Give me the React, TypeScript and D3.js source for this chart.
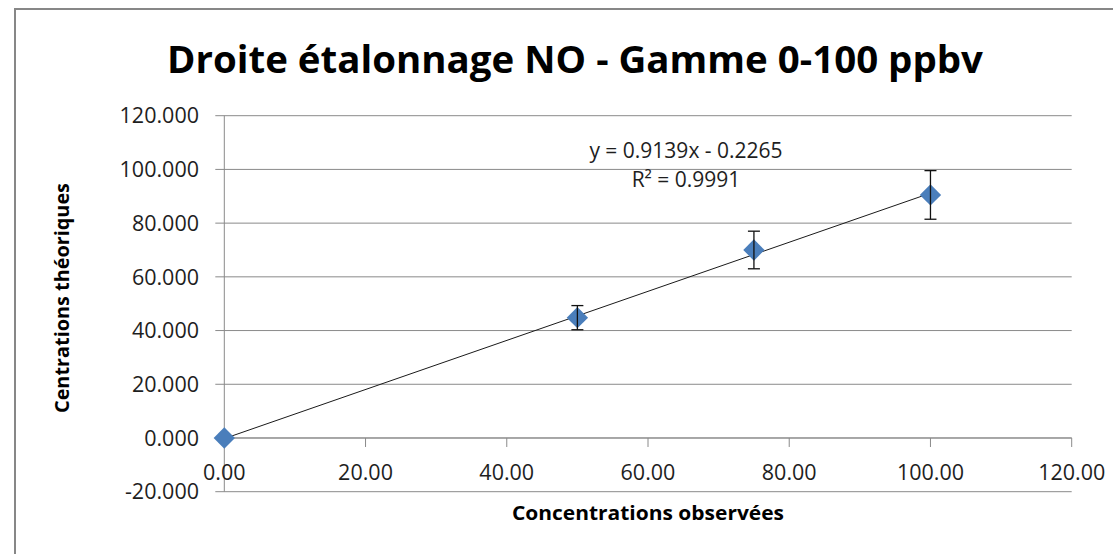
import React from "react";
import * as d3 from "d3";

const chartTitle = "Droite étalonnage NO - Gamme 0-100 ppbv";
const xAxisTitle = "Concentrations observées";
const yAxisTitle = "Centrations théoriques";

const xObserved = [0, 50, 75, 100];
const yTheoretical = [0, 44.8, 70.0, 90.5];
const yErrors = [0, 4.5, 7.0, 9.05];

const xTicks = [0, 20, 40, 60, 80, 100, 120];
const yTicks = [-20, 0, 20, 40, 60, 80, 100, 120];

const trendSlope = 0.9139;
const trendIntercept = -0.2265;
const trendRange = [0, 100];
const equationLines = ["y = 0.9139x - 0.2265", "R² = 0.9991"];

const W = 1113;
const H = 554;

export default function App() {
  const x = d3.scaleLinear().domain([0, 120]).range([224.3, 1071.7]);
  const y = d3.scaleLinear().domain([-20, 120]).range([491.7, 115.7]);
  const fy = (v: number) => d3.format(".3f")(v).replace("\u2212", "-");
  const fx = (v: number) => d3.format(".2f")(v).replace("\u2212", "-");
  const font = "'Open Sans', 'DejaVu Sans', sans-serif";
  const grid = "#8a8a8a";
  const line = d3.line<number>().x((d) => x(d)).y((d) => y(trendSlope * d + trendIntercept));
  const diamond = d3.symbol().type(d3.symbolDiamond2).size(290)();
  const pts = xObserved.map((v, i) => ({ x: v, y: yTheoretical[i], e: yErrors[i] }));

  return (
    <svg
      width={W}
      height={H}
      style={{ position: "absolute", left: 0, top: 0, background: "#fff" }}
      fontFamily={font}
    >
      <rect x={0} y={0} width={W} height={H} fill="#fff" />
      <rect x={15} y={9} width={1300} height={700} fill="#fff" stroke="#878787" strokeWidth={2} />

      <text
        x={575}
        y={73}
        textAnchor="middle"
        fontWeight="bold"
        fontSize={38}
        textLength={816}
        lengthAdjust="spacingAndGlyphs"
        fill="#000"
      >
        {chartTitle}
      </text>

      {yTicks.map((t) => (
        <line key={"g" + t} x1={x(0) - 9} x2={x(120)} y1={y(t)} y2={y(t)} stroke={grid} strokeWidth={1} />
      ))}
      <line x1={x(0)} x2={x(0)} y1={y(120)} y2={y(-20)} stroke={grid} strokeWidth={1} />
      <line x1={x(0)} x2={x(120)} y1={y(0)} y2={y(0)} stroke={grid} strokeWidth={1} />
      {xTicks.map((t) => (
        <line key={"xt" + t} x1={x(t)} x2={x(t)} y1={y(0)} y2={y(0) + 9} stroke={grid} strokeWidth={1} />
      ))}

      {yTicks.map((t) => (
        <text key={"yl" + t} x={199} y={y(t)} dy="0.36em" textAnchor="end" fontSize={21.5} fill="#1e1e1e">
          {fy(t)}
        </text>
      ))}
      {xTicks.map((t) => (
        <text key={"xl" + t} x={x(t)} y={480} textAnchor="middle" fontSize={21.5} fill="#1e1e1e">
          {fx(t)}
        </text>
      ))}

      <text
        x={(x(0) + x(120)) / 2}
        y={520}
        textAnchor="middle"
        fontWeight="bold"
        fontSize={20}
        textLength={272}
        lengthAdjust="spacingAndGlyphs"
        fill="#000"
      >
        {xAxisTitle}
      </text>
      <text
        transform={`translate(69,298) rotate(-90)`}
        textAnchor="middle"
        fontWeight="bold"
        fontSize={20}
        textLength={230}
        lengthAdjust="spacingAndGlyphs"
        fill="#000"
      >
        {yAxisTitle}
      </text>

      <path d={line(trendRange) || ""} fill="none" stroke="#1a1a1a" strokeWidth={1} />

      {pts.map((p, i) => (
        <path key={"m" + i} d={diamond || ""} transform={`translate(${x(p.x)},${y(p.y)})`} fill="#4A7EBB" />
      ))}

      {pts
        .filter((p) => p.e > 0)
        .map((p, i) => (
          <g key={"e" + i} stroke="#111" strokeWidth={1.3}>
            <line x1={x(p.x)} x2={x(p.x)} y1={y(p.y + p.e)} y2={y(p.y - p.e)} />
            <line x1={x(p.x) - 6} x2={x(p.x) + 6} y1={y(p.y + p.e)} y2={y(p.y + p.e)} />
            <line x1={x(p.x) - 6} x2={x(p.x) + 6} y1={y(p.y - p.e)} y2={y(p.y - p.e)} />
          </g>
        ))}

      {equationLines.map((s, i) => (
        <text key={"eq" + i} x={686} y={158 + i * 29} textAnchor="middle" fontSize={21} fill="#1e1e1e">
          {s}
        </text>
      ))}
    </svg>
  );
}
